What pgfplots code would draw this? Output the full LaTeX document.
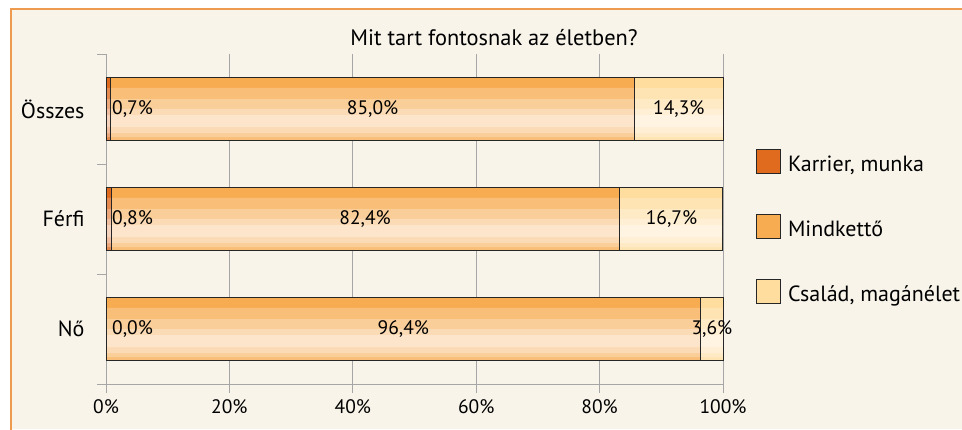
\documentclass[border=0pt]{standalone}
\usepackage{pgfplots}
\usepackage{pgfplotstable}
\pgfplotsset{compat=1.18}
\usepackage{fontspec}
\setmainfont{PT Sans}
\definecolor{bgc}{HTML}{F8F4EA}
\definecolor{framec}{HTML}{EF9B4F}
\definecolor{gridc}{HTML}{A6A6A6}
\definecolor{kTop}{HTML}{E06A1E}
\definecolor{mTop}{HTML}{F8AC52}
\definecolor{cTop}{HTML}{FFDD9E}
\pgfplotstableread{
x y
0.0 0
0.8 1
0.7 2
}\datK
\pgfplotstableread{
x y
96.4 0
82.4 1
85.0 2
}\datM
\pgfplotstableread{
x y
3.6 0
16.7 1
14.3 2
}\datC
\pgfplotsset{
  frameaxis/.style={at={(106pt,45pt)}, anchor=south west,
    width=617pt, height=330pt, scale only axis,
    xbar stacked, xmin=0, xmax=100, ymin=-0.5, ymax=2.5, clip=false},
}
\newcommand{\overlayaxis}[3]{%
\begin{axis}[frameaxis, hide axis, bar width=#1, bar shift=#2]
\addplot[draw=none, fill=white, fill opacity=#3] table[x=x,y=y] {\datK};
\addplot[draw=none, fill=white, fill opacity=#3] table[x=x,y=y] {\datM};
\addplot[draw=none, fill=white, fill opacity=#3] table[x=x,y=y] {\datC};
\end{axis}}
\tikzset{barline/.style={draw=black!85, line width=0.8pt}}
\begin{document}
\begin{tikzpicture}[x=1pt,y=1pt]
\useasboundingbox (0,0) rectangle (962,429);
\fill[white] (0,0) rectangle (962,429);
\fill[bgc] (11,0) rectangle (962,420);
\draw[framec, line width=2pt] (11,-2) -- (11,420) -- (964,420);
\node[anchor=base, font=\fontsize{22.4}{26}\selectfont] at (494,383) {Mit tart fontosnak az életben?};
\begin{axis}[
  frameaxis, bar width=63pt,
  xtick={0,20,40,60,80,100},
  xticklabels={0\%,20\%,40\%,60\%,80\%,100\%},
  ytick={-0.5,0.5,1.5,2.5},
  yticklabels={Nő,Férfi,Összes},
  y tick label as interval,
  xmajorgrids,
  major grid style={gridc, line width=1pt},
  axis x line*=bottom, axis y line*=left,
  axis line style={gridc, line width=1pt, -},
  tick style={gridc, line width=1pt},
  tick align=outside,
  major tick length=9pt,
  xticklabel style={font=\fontsize{19.5}{22}\selectfont, text=black, yshift=-3pt},
  yticklabel style={font=\fontsize{22}{25}\selectfont, text=black, xshift=-9pt},
  legend style={at={(axis description cs:1.0535,0.712)}, anchor=north west,
    draw=none, fill=none, inner sep=0pt, row sep=40pt,
    font=\fontsize{22}{25}\selectfont,
    nodes={inner sep=0pt, anchor=base west},
    /tikz/every odd column/.append style={column sep=7pt}},
  legend cell align=left,
]
\addplot[barline, fill=kTop,
  legend image code/.code={\fill[kTop] (0pt,-2pt) rectangle (24pt,22pt);
    \fill[white, fill opacity=0.35] (0pt,-2pt) rectangle (24pt,10pt);
    \fill[white, fill opacity=0.3] (0pt,-2pt) rectangle (24pt,4pt);
    \draw[barline] (0pt,-2pt) rectangle (24pt,22pt);}]
  table[x=x,y=y] {\datK};
\addplot[barline, fill=mTop,
  legend image code/.code={\fill[mTop] (0pt,-2pt) rectangle (24pt,22pt);
    \fill[white, fill opacity=0.3] (0pt,4pt) rectangle (24pt,22pt);
    \fill[white, fill opacity=0.3] (0pt,10pt) rectangle (24pt,22pt);
    \draw[barline] (0pt,-2pt) rectangle (24pt,22pt);}]
  table[x=x,y=y] {\datM};
\addplot[barline, fill=cTop,
  legend image code/.code={\fill[cTop] (0pt,-2pt) rectangle (24pt,22pt);
    \fill[white, fill opacity=0.4] (0pt,6pt) rectangle (24pt,22pt);
    \draw[barline] (0pt,-2pt) rectangle (24pt,22pt);}]
  table[x=x,y=y] {\datC};
\legend{{Karrier, munka},Mindkettő,{Család, magánélet}}
\coordinate (a1) at (axis cs:4.3,2);
\coordinate (a2) at (axis cs:43.2,2);
\coordinate (a3) at (axis cs:92.85,2);
\coordinate (b1) at (axis cs:4.3,1);
\coordinate (b2) at (axis cs:42.0,1);
\coordinate (b3) at (axis cs:91.65,1);
\coordinate (c1) at (axis cs:4.3,0);
\coordinate (c2) at (axis cs:48.2,0);
\coordinate (c3) at (axis cs:98.2,0);
\end{axis}
\overlayaxis{52pt}{-5pt}{0.22}
\overlayaxis{38pt}{-9pt}{0.25}
\overlayaxis{24pt}{-12pt}{0.28}
\overlayaxis{12pt}{-12pt}{0.3}
\begin{axis}[frameaxis, hide axis, bar width=63pt]
\addplot[barline, fill=none] table[x=x,y=y] {\datK};
\addplot[barline, fill=none] table[x=x,y=y] {\datM};
\addplot[barline, fill=none] table[x=x,y=y] {\datC};
\end{axis}
\begin{scope}[every node/.style={font=\fontsize{19.5}{22}\selectfont}]
\node at (a1) {0,7\%};
\node at (a2) {85,0\%};
\node at (a3) {14,3\%};
\node at (b1) {0,8\%};
\node at (b2) {82,4\%};
\node at (b3) {16,7\%};
\node at (c1) {0,0\%};
\node at (c2) {96,4\%};
\node at (c3) {3,6\%};
\end{scope}
\end{tikzpicture}
\end{document}
